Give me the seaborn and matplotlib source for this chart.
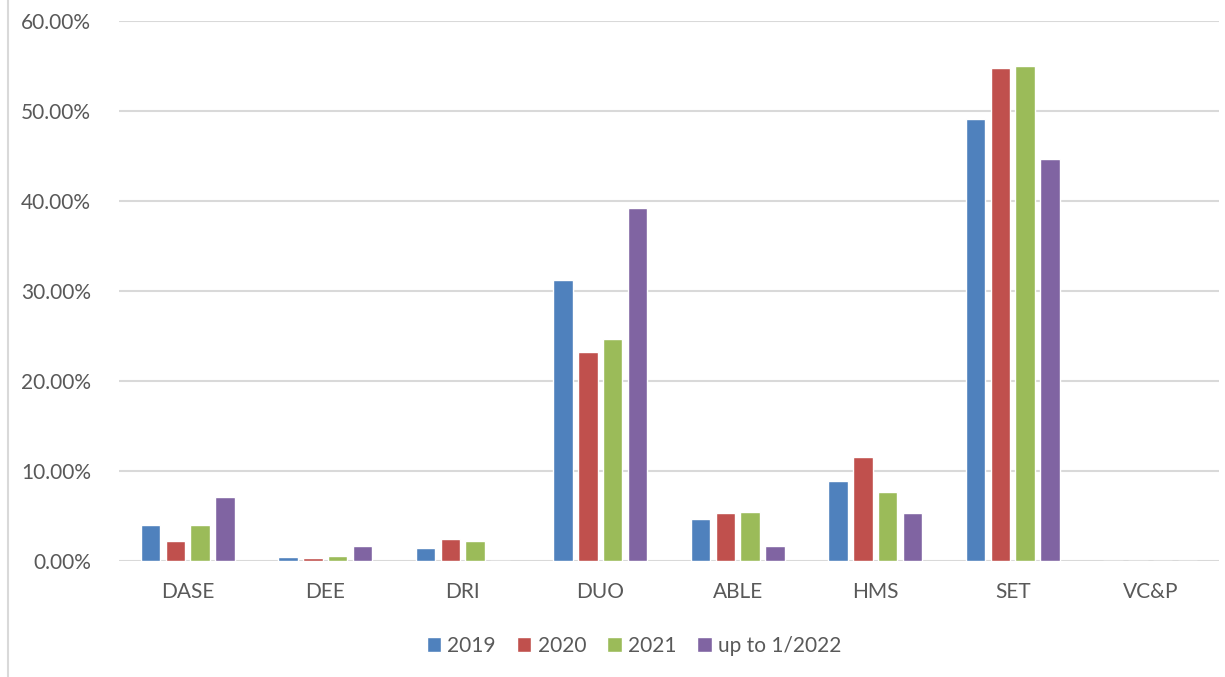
import matplotlib
matplotlib.use("Agg")
import matplotlib.pyplot as plt
import matplotlib.ticker as mticker
from matplotlib.lines import Line2D
import pandas as pd
import seaborn as sns

departments = ["DASE", "DEE", "DRI", "DUO", "ABLE", "HMS", "SET", "VC&P"]
years = ["2019", "2020", "2021", "up to 1/2022"]

share_2019 = [0.0395, 0.0040, 0.0142, 0.3125, 0.0465, 0.0890, 0.4915, 0.0]
share_2020 = [0.0218, 0.0032, 0.0248, 0.2322, 0.0528, 0.1160, 0.5475, 0.0]
share_2021 = [0.0395, 0.0058, 0.0222, 0.2472, 0.0540, 0.0770, 0.5505, 0.0]
share_2022 = [0.0710, 0.0168, 0.0, 0.3922, 0.0170, 0.0528, 0.4465, 0.0]

colors = ["#4F81BD", "#C0504D", "#9BBB59", "#8064A2"]

rows = []
for year, vals in zip(years, [share_2019, share_2020, share_2021, share_2022]):
    for dept, v in zip(departments, vals):
        rows.append({"dept": dept, "year": year, "share": v})
df = pd.DataFrame(rows)

sns.set_style("white")
plt.rcParams["font.family"] = ["Lato", "DejaVu Sans"]

fig = plt.figure(figsize=(12.25, 6.77), dpi=100)
ax = fig.add_axes([119 / 1225, 1 - 561 / 677, 1100 / 1225, 540 / 677])

sns.barplot(data=df, x="dept", y="share", hue="year", order=departments,
            hue_order=years, palette=colors, width=0.727, gap=0.22,
            errorbar=None, saturation=1, ax=ax)

ax.set_ylim(0, 0.6)
ax.set_xlim(-0.5, 7.5)
ax.yaxis.set_major_locator(mticker.MultipleLocator(0.1))
ax.yaxis.set_major_formatter(mticker.PercentFormatter(xmax=1, decimals=2))
ax.grid(axis="y", color="#D9D9D9", linewidth=1.5)
ax.set_axisbelow(True)
for s in ax.spines.values():
    s.set_visible(False)
ax.tick_params(axis="both", length=0, labelsize=15, labelcolor="#595959")
ax.tick_params(axis="y", pad=20)
ax.tick_params(axis="x", pad=15)
ax.set_xlabel("")
ax.set_ylabel("")

ax.legend(loc="center", bbox_to_anchor=(634 / 1225, 1 - 646 / 677),
          bbox_transform=fig.transFigure, ncol=4, frameon=False,
          fontsize=15, labelcolor="#595959", handlelength=0.7,
          handleheight=0.7, handletextpad=0.3, columnspacing=1.0)

fig.add_artist(Line2D([8 / 1225, 8 / 1225], [0, 1], color="#D9D9D9",
                      linewidth=1.5, transform=fig.transFigure))

fig.savefig("out.png", dpi=100)
